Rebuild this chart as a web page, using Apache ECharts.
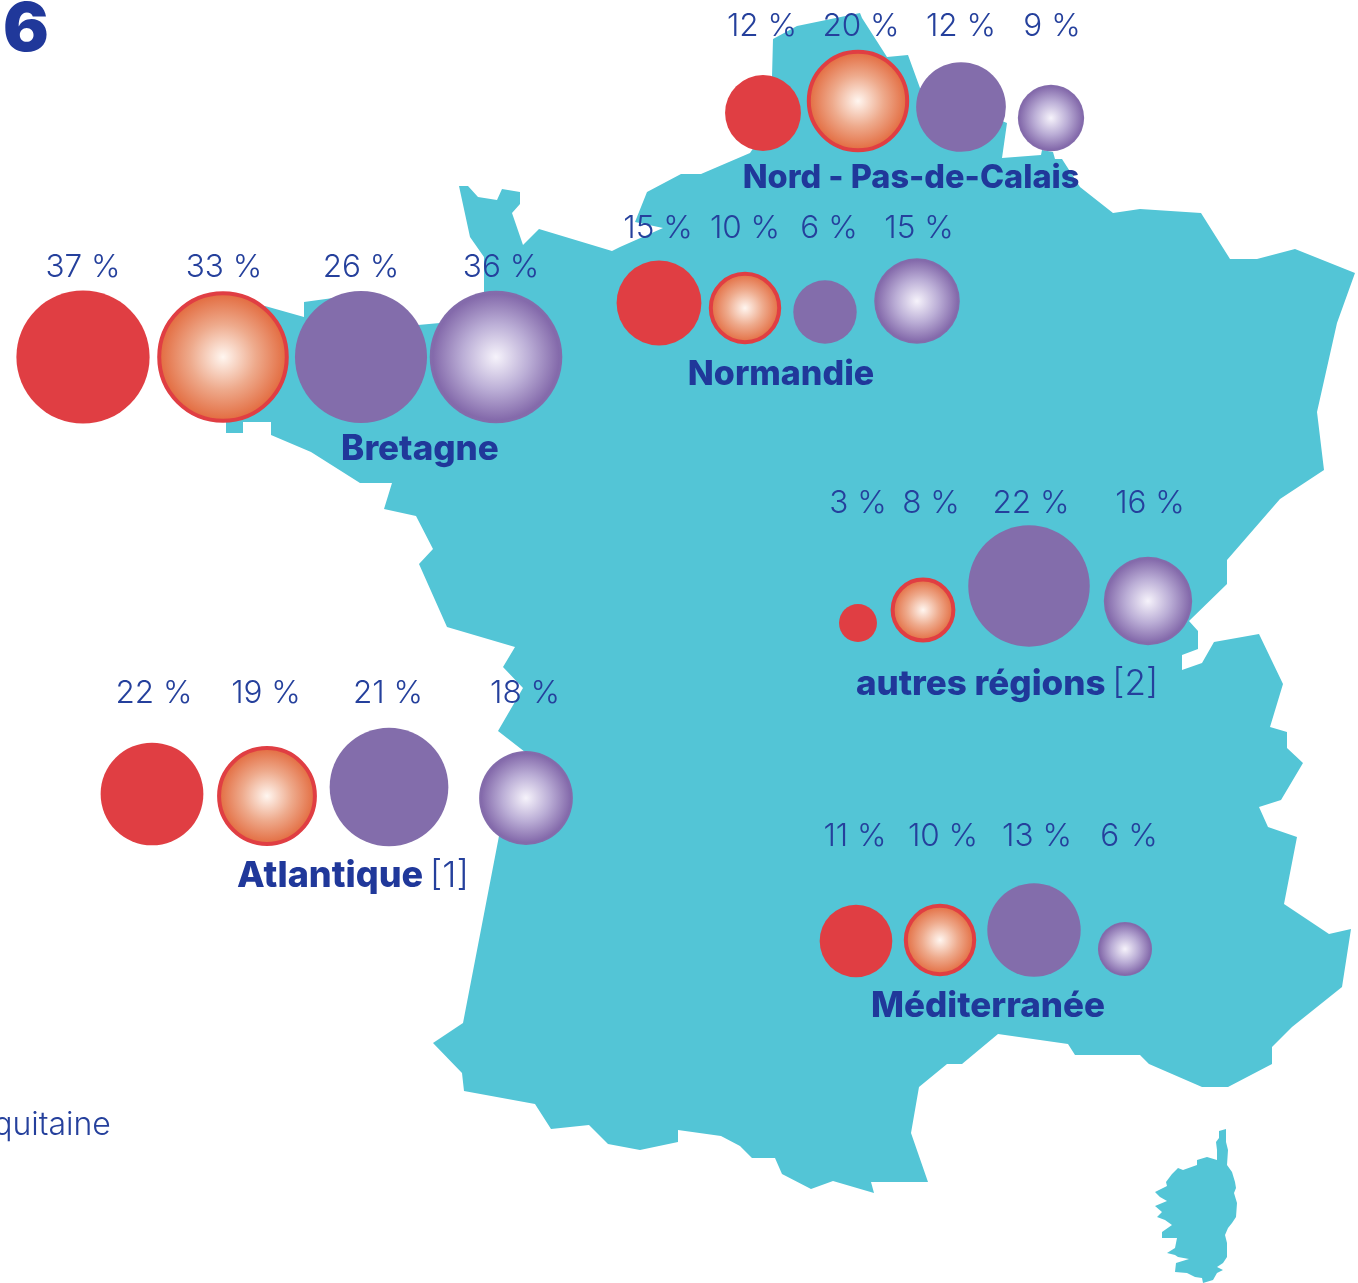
<!DOCTYPE html>
<html>
<head>
<meta charset="utf-8">
<title>Régions</title>
<script src="https://cdn.jsdelivr.net/npm/echarts@6/dist/echarts.min.js"></script>
<style>
html,body{margin:0;padding:0;background:#fff;overflow:hidden}
#main{width:1358px;height:1283px}
</style>
</head>
<body>
<div id="main"></div>
<script>
// values, in the order: Nord, Normandie, Bretagne, autres, Atlantique, Méditerranée
const regions = ['Nord - Pas-de-Calais', 'Normandie', 'Bretagne', 'autres régions', 'Atlantique', 'Méditerranée'];
const regionNotes = ['', '', '', '[2]', '[1]', ''];
const redValues = [12, 15, 37, 3, 22, 11];
const orangeValues = [20, 10, 33, 8, 19, 10];
const purpleValues = [12, 6, 26, 22, 21, 13];
const lilacValues = [9, 15, 36, 16, 18, 6];

// where each region's circles sit on the map
const redX = [763, 659, 83, 858, 152, 856];
const redY = [113, 303, 357, 623, 794, 941];
const orangeX = [858, 745, 223, 923, 267, 940];
const orangeY = [101, 308, 357, 610, 796, 940];
const purpleX = [961, 825, 361, 1029, 389, 1034];
const purpleY = [107, 312, 357, 586, 787, 930];
const lilacX = [1051, 917, 496, 1148, 526, 1125];
const lilacY = [118, 301, 357, 601, 798, 949];

// percent labels
const pctY = [27, 229, 268, 504, 694, 837];
const redPctX = [762, 658, 83, 858, 154, 855];
const orangePctX = [861, 745, 224, 931, 266, 943];
const purplePctX = [961, 829, 361, 1031, 388, 1037];
const lilacPctX = [1052, 919, 501, 1150, 525, 1129];

// region names
const nameX = [911, 781, 420, 1007, 353, 988];
const nameY = [178, 375, 449, 684, 876, 1006];
const nameSizes = [32.5, 34, 35, 35, 36, 35];

// outlines
const franceOutline = [
  [773,39],[797,26],[860,13],[862,18],[887,57],[908,55],[920,88],[1007,123],[1002,158],[1041,155],[1042,150],
  [1053,152],[1055,159],[1062,159],[1080,187],[1113,213],[1140,209],[1201,213],[1230,259],[1257,259],[1295,249],
  [1355,273],[1337,323],[1317,412],[1324,470],[1280,499],[1227,560],[1227,584],[1189,621],[1198,631],[1198,649],
  [1182,655],[1182,670],[1202,663],[1214,642],[1259,634],[1283,684],[1270,727],[1287,732],[1287,748],[1303,763],
  [1281,800],[1259,807],[1268,827],[1297,837],[1284,904],[1329,934],[1351,929],[1342,987],[1292,1027],[1272,1047],
  [1272,1064],[1228,1087],[1202,1087],[1149,1064],[1140,1055],[1075,1055],[1068,1044],[998,1034],[962,1064],[947,1064],
  [919,1087],[911,1133],[928,1182],[871,1182],[874,1193],[833,1181],[811,1189],[782,1174],[775,1158],[752,1158],
  [740,1146],[721,1136],[678,1130],[678,1142],[640,1150],[608,1144],[589,1125],[551,1129],[535,1104],[464,1091],
  [462,1073],[433,1043],[463,1023],[499,836],[505,800],[525,752],[498,731],[523,688],[503,667],[515,647],[447,627],
  [419,564],[433,549],[416,516],[384,509],[392,483],[360,483],[311,452],[271,435],[271,422],[243,422],[243,433],
  [226,433],[226,422],[225,340],[265,306],[304,317],[304,302],[333,298],[418,325],[440,323],[484,292],[484,257],
  [470,237],[459,186],[468,186],[478,197],[497,200],[502,189],[520,192],[520,204],[512,213],[523,245],[539,229],
  [612,251],[620,247],[663,228],[635,222],[647,192],[681,174],[701,174],[750,153],[772,120],[772,77]
];
const corsicaOutline = [
  [1219,1131],[1226,1129],[1226,1142],[1228,1150],[1227,1165],[1232,1172],[1235,1182],[1236,1188],[1234,1193],
  [1237,1203],[1236,1217],[1232,1223],[1228,1228],[1225,1235],[1227,1243],[1227,1257],[1223,1263],[1217,1267],
  [1223,1270],[1217,1273],[1213,1280],[1203,1283],[1202,1278],[1195,1277],[1187,1273],[1175,1272],[1176,1263],
  [1189,1259],[1178,1257],[1175,1255],[1167,1253],[1175,1248],[1177,1238],[1162,1238],[1162,1232],[1172,1225],
  [1165,1220],[1157,1217],[1162,1212],[1155,1206],[1167,1201],[1160,1197],[1155,1192],[1167,1186],[1166,1182],
  [1172,1174],[1178,1168],[1183,1170],[1197,1165],[1197,1160],[1207,1157],[1217,1160],[1217,1150],[1216,1142],[1219,1138]
];

const TEAL = '#53c5d6';
const BLUE = '#25409c';
const NAME_BLUE = '#20389a';

function zip(xs, ys, vals) {
  return xs.map((x, i) => [x, ys[i], vals[i]]);
}

function circleSeries(name, xs, ys, vals, scale, itemStyle, inset) {
  return {
    name: name,
    type: 'scatter',
    z: 3,
    clip: false,
    silent: true,
    data: zip(xs, ys, vals),
    symbol: 'circle',
    symbolSize: v => scale * Math.sqrt(v[2]) - (inset || 0),
    itemStyle: itemStyle
  };
}

function shapeSeries(points) {
  return {
    type: 'custom',
    z: 1,
    silent: true,
    data: [0],
    renderItem: (params, api) => ({
      type: 'polygon',
      shape: { points: points.map(p => api.coord(p)) },
      style: { fill: TEAL }
    })
  };
}

function textSeries(rows, style, z) {
  return {
    type: 'custom',
    z: z || 5,
    silent: true,
    clip: false,
    data: rows,
    renderItem: (params, api) => {
      const row = rows[params.dataIndex];
      const pos = api.coord([row[0], row[1]]);
      return {
        type: 'text',
        x: pos[0],
        y: pos[1],
        style: Object.assign({ text: row[2], align: 'center', verticalAlign: 'middle' }, style, row[3] || {})
      };
    }
  };
}

function pctRows(xs, vals) {
  return xs.map((x, i) => [x, pctY[i], vals[i] + ' %']);
}

const pctStyle = { fill: BLUE, font: '300 31.5px Inter' };
const nameRows = regions.map((r, i) => {
  const text = regionNotes[i] ? '{b|' + r + '}  {n|' + regionNotes[i] + '}' : '{b|' + r + '}';
  return [nameX[i], nameY[i], text, {
    rich: {
      b: { fill: NAME_BLUE, font: '800 ' + nameSizes[i] + 'px Inter' },
      n: { fill: BLUE, font: '300 ' + nameSizes[i] + 'px Inter' }
    }
  }];
});

const myChart = echarts.init(document.getElementById('main'), null, { renderer: 'canvas' });
myChart.setOption({
  animation: false,
  backgroundColor: '#fff',
  grid: { left: 0, right: 0, top: 0, bottom: 0 },
  xAxis: { type: 'value', min: 0, max: 1358, show: false },
  yAxis: { type: 'value', min: 0, max: 1283, inverse: true, show: false },
  series: [
    shapeSeries(franceOutline),
    shapeSeries(corsicaOutline),
    circleSeries('red', redX, redY, redValues, 21.9, { color: '#e03e43', opacity: 1 }),
    circleSeries('orange', orangeX, orangeY, orangeValues, 22.9, {
      opacity: 1,
      color: new echarts.graphic.RadialGradient(0.5, 0.5, 0.5, [
        { offset: 0, color: '#fff6f0' },
        { offset: 0.5, color: '#eeaa8c' },
        { offset: 1, color: '#e2673a' }
      ]),
      borderColor: '#e03e43',
      borderWidth: 4
    }, 4),
    circleSeries('purple', purpleX, purpleY, purpleValues, 25.9, { color: '#836dab', opacity: 1 }),
    circleSeries('lilac', lilacX, lilacY, lilacValues, 22.1, {
      opacity: 1,
      color: new echarts.graphic.RadialGradient(0.5, 0.5, 0.5, [
        { offset: 0, color: '#f6f3fb' },
        { offset: 0.5, color: '#bbaed6' },
        { offset: 0.95, color: '#846aab' },
        { offset: 1, color: '#836dab' }
      ])
    }),
    textSeries(pctRows(redPctX, redValues), pctStyle),
    textSeries(pctRows(orangePctX, orangeValues), pctStyle),
    textSeries(pctRows(purplePctX, purpleValues), pctStyle),
    textSeries(pctRows(lilacPctX, lilacValues), pctStyle),
    textSeries(nameRows, {}),
    textSeries([
      [26, 31, '6', { fill: NAME_BLUE, font: '900 68px Inter' }],
      [52, 1125, 'quitaine', { fill: BLUE, font: '300 32px Inter' }]
    ], {})
  ]
});
</script>
</body>
</html>
